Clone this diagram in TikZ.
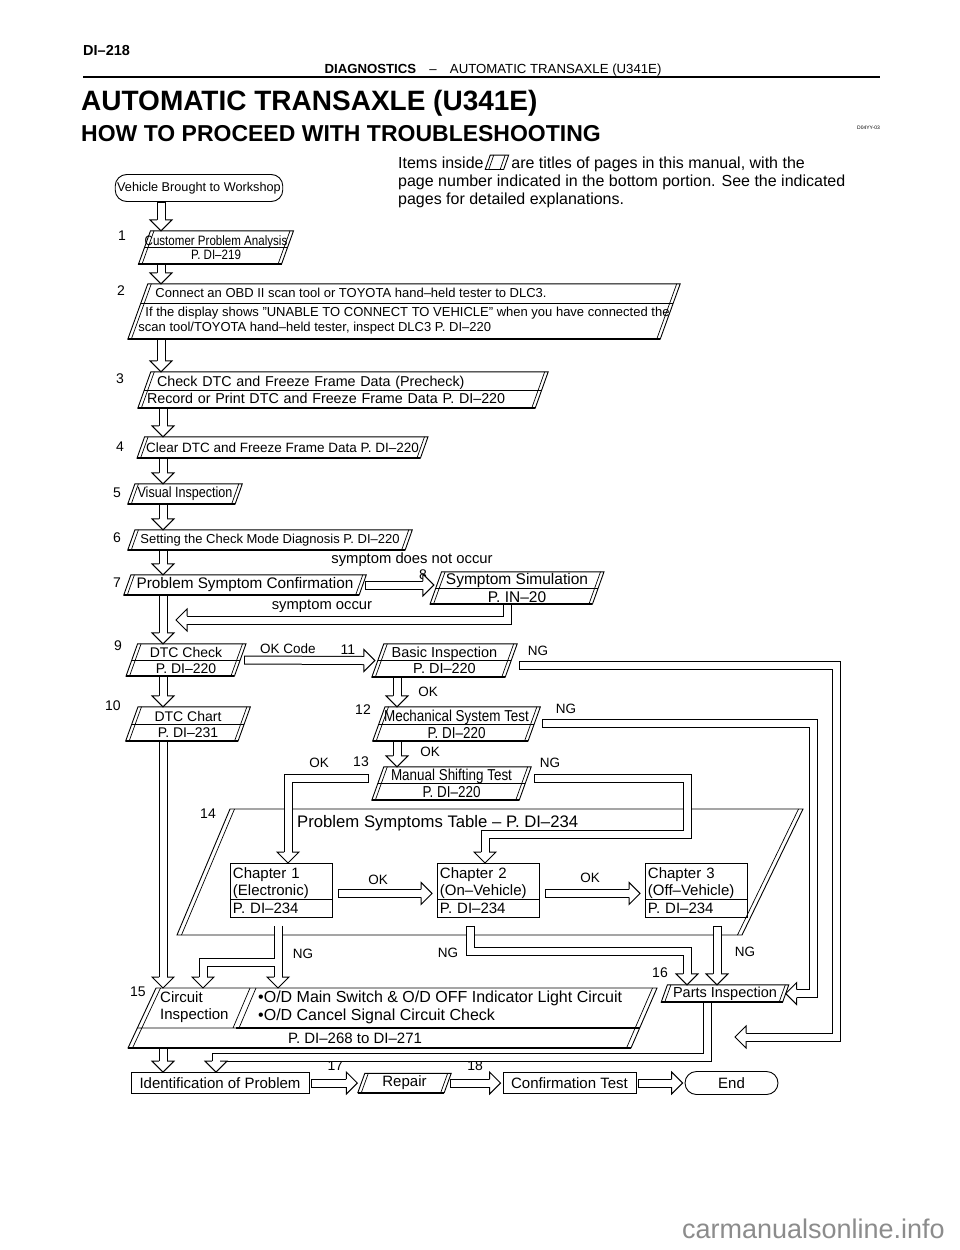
\documentclass[tikz,border=0pt]{standalone}
\usepackage{fontspec}
\setmainfont{Liberation Sans}
\newfontfamily\narrowfont{Liberation Sans}[FakeStretch=0.85]
\usetikzlibrary{positioning,calc}

\newcommand{\fs}[1]{\fontsize{#1}{\dimexpr#1pt+2pt\relax}\selectfont}
\newcommand{\nfs}[1]{\narrowfont\fontsize{#1}{\dimexpr#1pt+1pt\relax}\selectfont}
\definecolor{wmgray}{RGB}{140,140,140}

\tikzset{
  every node/.style={font=\fs{13.5}, inner sep=0pt},
  pgbox/.style={rectangle, inner xsep=0pt, inner ysep=0pt},
  rbox/.style={rectangle, draw, line width=0.9pt, inner xsep=4pt},
  oval/.style={rectangle, rounded corners=11.5pt, draw, line width=0.9pt},
  hollow/.style={draw=white, line width=7pt, line join=miter,
    preaction={draw=black, line width=9pt, shorten <=0pt}, shorten <=1pt},
  hd/.pic={\filldraw[fill=white, draw=black, line width=1pt, line join=miter]
    (-4,0) -- (-11,0) -- (0,11) -- (11,0) -- (4,0);}
}

% hollow flow arrows, tip at the second point
\newcommand{\downflow}[2]{%
  \draw[hollow] #1 -- ($#2+(0,-11)$);
  \path ($#2+(0,-11)$) pic{hd};}
\newcommand{\rightflow}[2]{%
  \draw[hollow] #1 -- ($#2+(-11,0)$);
  \path ($#2+(-11,0)$) pic[rotate=90]{hd};}
% page box frame round a text node: #2 = half the slant
\newcommand{\pgframe}[2]{%
  \draw[line width=0.9pt] ($(#1.south west)+(-#2,0)$) -- ($(#1.north west)+(#2,0)$)
    -- ($(#1.north east)+(#2,0)$) -- ($(#1.south east)+(-#2,0)$) -- cycle;
  \draw[line width=0.7pt] ($(#1.south west)+(3.5-#2,0)$) -- ($(#1.north west)+(3.5+#2,0)$)
    ($(#1.south east)+(-3.5-#2,0)$) -- ($(#1.north east)+(-3.5+#2,0)$);
  \draw[line width=1.6pt] ($(#1.south west)+(-#2,0)$) -- ($(#1.south east)+(-#2,0)$);}
\newcommand{\pgrule}[3]{%
  \draw[line width=0.8pt] ($(#1.north west)!#3!(#1.south west)+(#2-2*#3*#2,0)$) --
    ($(#1.north east)!#3!(#1.south east)+(#2-2*#3*#2,0)$);}

\begin{document}
\begin{tikzpicture}[x=1pt,y=-1pt]
\useasboundingbox[fill=white] (0,0) rectangle (960,1250);

% page head
\node[anchor=base west,font=\bfseries\fs{14.5}] (pageno) at (83,55) {DI–218};
\node[anchor=base,font=\fs{13.2}] (runhead) at (493,73)
  {\textbf{DIAGNOSTICS}\quad–\quad AUTOMATIC TRANSAXLE (U341E)};
\draw[line width=1.6pt] (83,77) -- (880,77);
\node[anchor=base west,font=\bfseries\fs{28}] (title) at (81,110) {AUTOMATIC TRANSAXLE (U341E)};
\node[anchor=base west,font=\bfseries\fs{23}] (subtitle) at (81,141) {HOW TO PROCEED WITH TROUBLESHOOTING};
\node[anchor=base west,font=\fs{5}] (figcode) at (857,129) {D04YY-03};

% note
\node[anchor=base west,font=\fs{16}] (notea) at (398,168) {Items inside};
\node[pgbox, minimum width=18, minimum height=14, right=4pt of notea] (icon) {};
\pgframe{icon}{2.5}
\node[anchor=base west,font=\fs{16}] (noteb) at ($(icon.east |- notea.base)+(5,0)$) {are titles of pages in this manual, with the};
\node[anchor=base west,font=\fs{16}] (notec) at (398,186) {page number indicated in the bottom portion. See the indicated};
\node[anchor=base west,font=\fs{16}] (noted) at (398,204) {pages for detailed explanations.};

% main column
\coordinate (colA) at (161,0);
\coordinate (colB) at (163,0);
\node[oval, minimum width=166, minimum height=27, inner xsep=2pt, font=\fs{12.7}] (veh) at (199,188) {Vehicle Brought to Workshop};
\node[pgbox, minimum width=140, minimum height=33, align=center, font=\nfs{13.6}] (cpa) at (216,247.5) {Customer Problem Analysis\\P. DI–219};
\node[pgbox, minimum width=532, minimum height=55, align=left, font=\fs{13}] (obd) at (404,311.5)
  {\hspace*{17pt}Connect an OBD II scan tool or TOYOTA hand–held tester to DLC3.\\[4pt]
   \hspace*{7pt}If the display shows "UNABLE TO CONNECT TO VEHICLE" when you have connected the\\
   scan tool/TOYOTA hand–held tester, inspect DLC3 P. DI–220};
\node[pgbox, minimum width=397, minimum height=36, text width=392, align=left, font=\fs{14.3}] (pre) at (343,390)
  {\hspace*{10pt}Check DTC and Freeze Frame Data (Precheck)\\Record or Print DTC and Freeze Frame Data P. DI–220};
\node[pgbox, minimum width=283, minimum height=21, font=\fs{13.5}] (clr) at (282.5,447.5) {Clear DTC and Freeze Frame Data P. DI–220};
\node[pgbox, minimum width=107, minimum height=20, font=\nfs{14.8}] (vis) at (185,494) {Visual Inspection};
\node[pgbox, minimum width=277, minimum height=20, font=\fs{13}] (chk) at (270,540) {Setting the Check Mode Diagnosis P. DI–220};
\node[pgbox, minimum width=235, minimum height=20, font=\fs{15.3}] (psc) at (245,585) {Problem Symptom Confirmation};
\node[pgbox, minimum width=162, minimum height=32, align=center, font=\fs{15.5}] (sim) at (517,588) {Symptom Simulation\\P. IN–20};
\node[pgbox, minimum width=108, minimum height=32, align=center, font=\fs{14}] (dtc) at (186,660) {DTC Check\\P. DI–220};
\node[pgbox, minimum width=112, minimum height=34, align=center, font=\fs{14}] (chart) at (188,724) {DTC Chart\\P. DI–231};
\node[pgbox, minimum width=133, minimum height=33, align=center, font=\fs{14.5}] (basic) at (444.5,660.5) {Basic Inspection\\P. DI–220};
\node[pgbox, minimum width=155, minimum height=34, align=center, font=\nfs{15.8}] (mech) at (456.5,724) {Mechanical System Test\\P. DI–220};
\node[pgbox, minimum width=147, minimum height=33, align=center, font=\nfs{15.8}] (man) at (451.5,783.5) {Manual Shifting Test\\P. DI–220};

\foreach \b/\s in {cpa/6,obd/10,pre/6.5,clr/3.8,vis/3.6,chk/3.6,psc/3.6,sim/5.8,dtc/5.8,chart/6.2,basic/6,mech/6.2,man/6}
  {\pgframe{\b}{\s}}
\foreach \b/\s/\f in {cpa/6/0.5,obd/10/0.345,pre/6.5/0.5,sim/5.8/0.5,dtc/5.8/0.5,chart/6.2/0.5,basic/6/0.5,mech/6.2/0.5,man/6/0.5}
  {\pgrule{\b}{\s}{\f}}

% step numbers
\foreach \t/\x/\y in {1/122/236,2/121/291,3/120/379,4/120/447,5/117/493,6/117/538,7/117/583,
    8/423/575,9/118/646,10/113/706,11/348/650,12/363/710,13/361/762,14/208/814,15/138/992,16/660/973}
  {\node[font=\fs{14}] (n\t) at (\x,\y) {\t};}

% labels
\node[font=\fs{14.8}] (sdno) at (412,560) {symptom does not occur};
\node[font=\fs{14.8}] (socc) at (322,606) {symptom occur};
\node (okcode) at (288,649) {OK Code};
\node (ok11) at (428,692) {OK};
\node (ng11) at (538,651) {NG};
\node (ng12) at (566,709) {NG};
\node (ok12) at (430,752) {OK};
\node (ok13) at (319,763) {OK};
\node (ng13) at (550,763) {NG};

% problem symptoms table
\draw[line width=0.9pt] (230,809) -- (803,809) -- (742,935) -- (177,935) -- cycle;
\draw[line width=0.7pt] (234.5,809) -- (181.5,935) (798.5,809) -- (737.5,935);
\node[anchor=west, font=\fs{16.7}] (pst) at (297,823) {Problem Symptoms Table – P. DI–234};
\node[rbox, minimum width=102, minimum height=54, text width=97, inner xsep=2.5pt, align=left, anchor=north west, font=\fs{15}] (ch1) at (230,863)
  {Chapter 1\\(Electronic)\\[1pt]P. DI–234};
\node[rbox, minimum width=102, minimum height=54, text width=97, inner xsep=2.5pt, align=left, anchor=north west, font=\fs{15}] (ch2) at (437,863)
  {Chapter 2\\(On–Vehicle)\\[1pt]P. DI–234};
\node[rbox, minimum width=102, minimum height=54, text width=97, inner xsep=2.5pt, align=left, anchor=north west, font=\fs{15}] (ch3) at (645,863)
  {Chapter 3\\(Off–Vehicle)\\[1pt]P. DI–234};
\foreach \b in {ch1,ch2,ch3}
  {\draw[line width=0.8pt] ($(\b.north west)!0.67!(\b.south west)$) -- ($(\b.north east)!0.67!(\b.south east)$);}
\node (okc1) at (378,880) {OK};
\node (okc2) at (590,878) {OK};
\node (ngc1) at (303,954) {NG};
\node (ngc2) at (448,953) {NG};
\node (ngc3) at (745,952) {NG};

% circuit inspection
\draw[line width=0.9pt] (156,988) -- (657,988) -- (631,1048) -- (128,1048) -- cycle;
\draw[line width=0.7pt] (160.5,988) -- (132.5,1048) (652.5,988) -- (626.5,1048)
  (250,988) -- (233,1028) (256,988) -- (239,1028) (137,1028) -- (236,1028);
\draw[line width=1.8pt] (236,1028) -- (640,1028);
\draw[line width=1.4pt] (128,1048) -- (631,1048);
\node[anchor=west, align=left, font=\fs{15}] (circ) at (160,1007) {Circuit\\Inspection};
\node[anchor=west, align=left, font=\fs{16}] (odsw) at (258,1007)
  {•O/D Main Switch \& O/D OFF Indicator Light Circuit\\•O/D Cancel Signal Circuit Check};
\node[font=\fs{15}] (circpg) at (355,1038) {P. DI–268 to DI–271};
\coordinate (circtop) at (0,988);
\coordinate (circbot) at (0,1048);

\node[pgbox, minimum width=121, minimum height=17, font=\fs{14.5}] (parts) at (725,993.5) {Parts Inspection};
\pgframe{parts}{3.1}

% last row
\node[rbox, minimum width=178, minimum height=21, font=\fs{15}] (ident) at (220,1083) {Identification of Problem};
\node[pgbox, minimum width=86, minimum height=19, font=\fs{15}] (repair) at (404.5,1083) {Repair};
\pgframe{repair}{3.5}
\node[rbox, minimum width=133, minimum height=21, font=\fs{15}] (conf) at (569.5,1083) {Confirmation Test};
\node[oval, minimum width=93, minimum height=23, font=\fs{15}] (fin) at (731.5,1083) {End};
\node[font=\fs{14}] (n17) at ($(ident.east)!0.5!(repair.west)+(0,-17)$) {17};
\node[font=\fs{14}] (n18) at ($(repair.east)!0.5!(conf.west)+(0,-17)$) {18};

% flow arrows
\downflow{(veh.south -| colA)}{(cpa.north -| colA)}
\downflow{(cpa.south -| colA)}{(obd.north -| colA)}
\downflow{(obd.south -| colA)}{(pre.north -| colA)}
\downflow{(pre.south -| colB)}{(clr.north -| colB)}
\downflow{(clr.south -| colB)}{(vis.north -| colB)}
\downflow{(vis.south -| colB)}{(chk.north -| colB)}
\downflow{(chk.south -| colB)}{(psc.north -| colB)}
\downflow{(psc.south -| colB)}{(dtc.north -| colB)}
\downflow{(dtc.south -| colB)}{(chart.north -| colB)}
\downflow{(chart.south -| colB)}{(colB |- circtop)}
\downflow{(colB |- circbot)}{(ident.north -| colB)}
\rightflow{($(psc.east)+(2,0)$)}{($(sim.west |- psc.east)+(-2,0)$)}
\rightflow{($(dtc.east)+(4,0)$)}{($(basic.west)+(-3,0)$)}

\coordinate (ret9) at (176,620);
\coordinate (retx) at (507,0);
\draw[hollow] (sim.south -| retx) |- ($(ret9)+(11,0)$);
\path ($(ret9)+(11,0)$) pic[rotate=-90]{hd};

\coordinate (colC) at (397,0);
\downflow{(basic.south -| colC)}{(mech.north -| colC)}
\downflow{(mech.south -| colC)}{(man.north -| colC)}

% NG routes on the right
\coordinate (tip11) at (735,1037);
\draw[hollow] ($(basic.east)+(8,5)$) -| ($(tip11)+(101,0)$) -- ($(tip11)+(11,0)$);
\path ($(tip11)+(11,0)$) pic[rotate=-90]{hd};
\draw[hollow] ($(mech.east)+(8,-1)$) -| ($(parts.east)+(28,0)$) -- ($(parts.east)+(11,0)$);
\path ($(parts.east)+(11,0)$) pic[rotate=-90]{hd};

% manual shifting test results
\coordinate (okx) at (288,0);
\coordinate (ngx) at (485,0);
\draw[hollow] ($(man.west)+(-9,-5)$) -| ($(ch1.north -| okx)+(0,-11)$);
\path ($(ch1.north -| okx)+(0,-11)$) pic{hd};
\draw[hollow] ($(man.east)+(9,-5)$) -| (687,834) -| ($(ch2.north -| ngx)+(0,-11)$);
\path ($(ch2.north -| ngx)+(0,-11)$) pic{hd};

% chapters
\rightflow{($(ch1.east)+(5,3)$)}{($(ch2.west)+(-5,3)$)}
\rightflow{($(ch2.east)+(5,3)$)}{($(ch3.west)+(-5,3)$)}
\coordinate (ngA) at (278,0);
\coordinate (circA) at (203,0);
\draw[hollow] ($(ch1.south -| ngA)+(0,8)$) -- ($(ngA |- circtop)+(0,-11)$)
  (ngA |- 0,962) -| ($(circA |- circtop)+(0,-11)$);
\path ($(ngA |- circtop)+(0,-11)$) pic{hd} ($(circA |- circtop)+(0,-11)$) pic{hd};
\coordinate (ngB) at (470,0);
\coordinate (ngC) at (687,0);
\draw[hollow] ($(ch2.south -| ngB)+(0,8)$) |- (ngC |- 0,951) -- ($(parts.north -| ngC)+(0,-11)$);
\path ($(parts.north -| ngC)+(0,-11)$) pic{hd};
\coordinate (ngD) at (717,0);
\downflow{($(ch3.south -| ngD)+(0,8)$)}{(parts.north -| ngD)}

% parts inspection result
\coordinate (ngE) at (707,0);
\coordinate (idA) at (216,0);
\draw[hollow] (parts.south -| ngE) |- (idA |- 0,1057) -- ($(ident.north -| idA)+(0,-11)$);
\path ($(ident.north -| idA)+(0,-11)$) pic{hd};

% last row arrows
\rightflow{($(ident.east)+(2,0)$)}{($(repair.west)+(-4,0)$)}
\rightflow{($(repair.east)+(2,0)$)}{($(conf.west)+(-2,0)$)}
\rightflow{($(conf.east)+(2,0)$)}{($(fin.west)+(-2,0)$)}

\node[anchor=base east, font=\fs{27}, text=wmgray] (wm) at (945,1238) {carmanualsonline.info};
\end{tikzpicture}
\end{document}
